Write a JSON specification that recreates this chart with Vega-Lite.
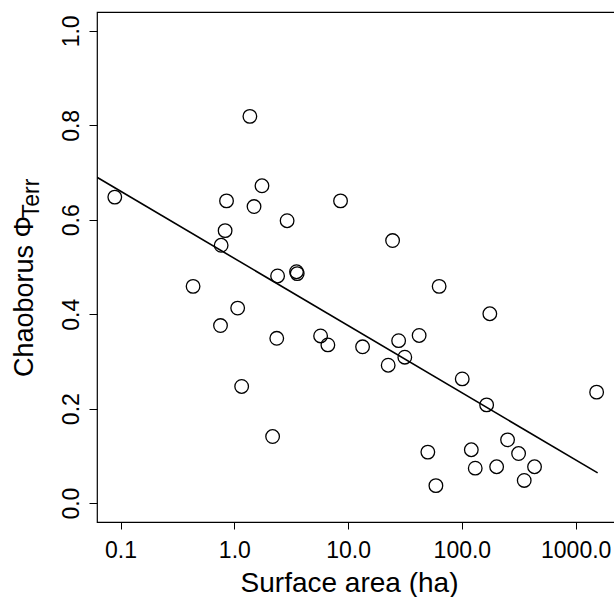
{
  "$schema": "https://vega.github.io/schema/vega-lite/v6.json",
  "autosize": "none",
  "width": 521,
  "height": 510,
  "padding": {"left": 97, "top": 12, "right": 0, "bottom": 75},
  "background": "white",
  "config": {
    "view": {"stroke": "black", "strokeWidth": 1.2},
    "font": "Liberation Sans"
  },
  "layer": [
    {
      "data": {"values": [
        {"area": 0.089, "phi": 0.648},
        {"area": 1.37, "phi": 0.819},
        {"area": 1.75, "phi": 0.672},
        {"area": 0.854, "phi": 0.640},
        {"area": 1.49, "phi": 0.628},
        {"area": 2.91, "phi": 0.598},
        {"area": 8.58, "phi": 0.640},
        {"area": 0.83, "phi": 0.577},
        {"area": 0.766, "phi": 0.546},
        {"area": 2.40, "phi": 0.481},
        {"area": 3.52, "phi": 0.490},
        {"area": 3.57, "phi": 0.486},
        {"area": 24.6, "phi": 0.556},
        {"area": 0.434, "phi": 0.459},
        {"area": 1.07, "phi": 0.413},
        {"area": 0.756, "phi": 0.376},
        {"area": 2.36, "phi": 0.349},
        {"area": 5.73, "phi": 0.354},
        {"area": 6.64, "phi": 0.335},
        {"area": 1.16, "phi": 0.247},
        {"area": 2.17, "phi": 0.141},
        {"area": 63.1, "phi": 0.459},
        {"area": 176, "phi": 0.401},
        {"area": 13.4, "phi": 0.331},
        {"area": 27.8, "phi": 0.344},
        {"area": 42.1, "phi": 0.355},
        {"area": 31.5, "phi": 0.309},
        {"area": 22.5, "phi": 0.292},
        {"area": 100.7, "phi": 0.263},
        {"area": 165, "phi": 0.208},
        {"area": 1528, "phi": 0.235},
        {"area": 252, "phi": 0.134},
        {"area": 50.2, "phi": 0.108},
        {"area": 121, "phi": 0.113},
        {"area": 315, "phi": 0.105},
        {"area": 131, "phi": 0.074},
        {"area": 202, "phi": 0.077},
        {"area": 435, "phi": 0.077},
        {"area": 353, "phi": 0.048},
        {"area": 59.1, "phi": 0.037}
      ]},
      "mark": {"type": "point", "shape": "circle", "size": 185, "stroke": "black", "strokeWidth": 1.3, "filled": false, "opacity": 1},
      "encoding": {
        "x": {
          "field": "area", "type": "quantitative",
          "scale": {"type": "log", "domain": [0.0621, 2355], "nice": false, "zero": false},
          "axis": {
            "values": [0.1, 1, 10, 100, 1000], "format": ".1f",
            "labelFontSize": 23, "labelColor": "black", "labelFlush": false, "labelOverlap": false,
            "labelBaseline": "alphabetic", "labelPadding": 28,
            "tickSize": 7, "tickColor": "black", "domain": false, "grid": false,
            "title": "Surface area (ha)", "titleFontSize": 28, "titleFontWeight": "normal", "titleColor": "black",
            "titleX": 252, "titleY": 69, "titleAlign": "center", "titleBaseline": "alphabetic"
          }
        },
        "y": {
          "field": "phi", "type": "quantitative",
          "scale": {"domain": [-0.04, 1.04], "nice": false, "zero": false},
          "axis": {
            "values": [0, 0.2, 0.4, 0.6, 0.8, 1.0], "format": ".1f",
            "labelAngle": -90, "labelAlign": "center", "labelBaseline": "alphabetic", "labelPadding": 11,
            "labelFontSize": 23, "labelColor": "black", "labelFlush": false, "labelOverlap": false,
            "tickSize": 8, "tickColor": "black", "domain": false, "grid": false,
            "title": "Chaoborus Φ", "titleFontSize": 27, "titleFontWeight": "normal", "titleColor": "black",
            "titleAngle": -90, "titleX": -65, "titleY": 284, "titleAlign": "center", "titleBaseline": "alphabetic"
          }
        }
      }
    },
    {
      "data": {"values": [
        {"area": 0.0621, "phi": 0.690},
        {"area": 1560, "phi": 0.064}
      ]},
      "mark": {"type": "line", "stroke": "black", "strokeWidth": 1.6, "clip": true},
      "encoding": {
        "x": {"field": "area", "type": "quantitative"},
        "y": {
          "field": "phi", "type": "quantitative",
          "axis": {
            "orient": "right", "labels": false, "ticks": false, "domain": false, "grid": false,
            "title": "Terr", "titleFontSize": 23, "titleFontWeight": "normal", "titleColor": "black",
            "titleAngle": -90, "titleX": -580, "titleY": 186, "titleAlign": "center", "titleBaseline": "alphabetic"
          }
        }
      }
    }
  ],
  "resolve": {"axis": {"y": "independent"}}
}
